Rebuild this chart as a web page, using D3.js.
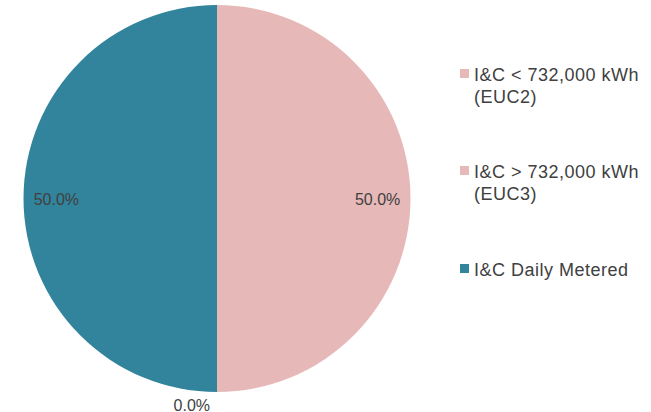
<!DOCTYPE html>
<html>
<head>
<meta charset="utf-8">
<script src="https://cdn.jsdelivr.net/npm/d3@7"></script>
<style>
  html, body { margin: 0; padding: 0; background: #fff; }
  svg { display: block; font-family: "Liberation Sans", Arial, sans-serif; }
</style>
</head>
<body>
<svg id="chart" width="651" height="412"></svg>
<script>
// Load shares by customer class
const categories = ["I&C < 732,000 kWh (EUC2)", "I&C > 732,000 kWh (EUC3)", "I&C Daily Metered"];
const legendLines = [["I&C < 732,000 kWh", "(EUC2)"], ["I&C > 732,000 kWh", "(EUC3)"], ["I&C Daily Metered"]];
const shares = [50.0, 0.0, 50.0];
const colors = ["#E6B9B8", "#E6B9B8", "#31849B"];

const svg = d3.select("#chart");
const cx = 217, cy = 198.5, r = 193.5;

const pie = d3.pie().sort(null).value(d => d.value);
const data = pie(categories.map((c, i) => ({ name: c, value: shares[i], color: colors[i] })));
const arc = d3.arc().innerRadius(0).outerRadius(r);

const g = svg.append("g").attr("transform", `translate(${cx},${cy})`);
g.selectAll("path.slice")
  .data(data)
  .join("path")
  .attr("class", "slice")
  .attr("d", arc)
  .attr("fill", d => d.data.color);

// Percentage labels: inside for visible slices, just outside for empty ones
const inner = d3.arc().innerRadius(r * 0.83).outerRadius(r * 0.83);
const outer = d3.arc().innerRadius(r + 10).outerRadius(r + 10);
g.selectAll("text.pct")
  .data(data)
  .join("text")
  .attr("class", "pct")
  .attr("font-size", 16)
  .attr("fill", "#404040")
  .attr("dominant-baseline", "central")
  .each(function(d) {
    const t = d3.select(this);
    if (d.data.value > 0) {
      const [x, y] = inner.centroid(d);
      t.attr("x", x).attr("y", y + 1).attr("text-anchor", "middle");
    } else {
      const [x, y] = outer.centroid(d);
      t.attr("x", x - 7).attr("y", y + 3).attr("text-anchor", "end");
    }
  })
  .text(d => d.data.value.toFixed(1) + "%");

// Legend
const legendY = [74, 171, 269];
const lg = svg.append("g");
legendLines.forEach((lines, i) => {
  lg.append("rect")
    .attr("x", 460).attr("y", legendY[i] - 5)
    .attr("width", 9).attr("height", 9)
    .attr("fill", colors[i]);
  const t = lg.append("text")
    .attr("x", 474).attr("y", legendY[i] + 7)
    .attr("font-size", 18)
    .attr("letter-spacing", 0.5)
    .attr("fill", "#404040");
  lines.forEach((ln, j) => {
    t.append("tspan").attr("x", 474).attr("dy", j === 0 ? 0 : 21.5).text(ln);
  });
});
</script>
</body>
</html>
